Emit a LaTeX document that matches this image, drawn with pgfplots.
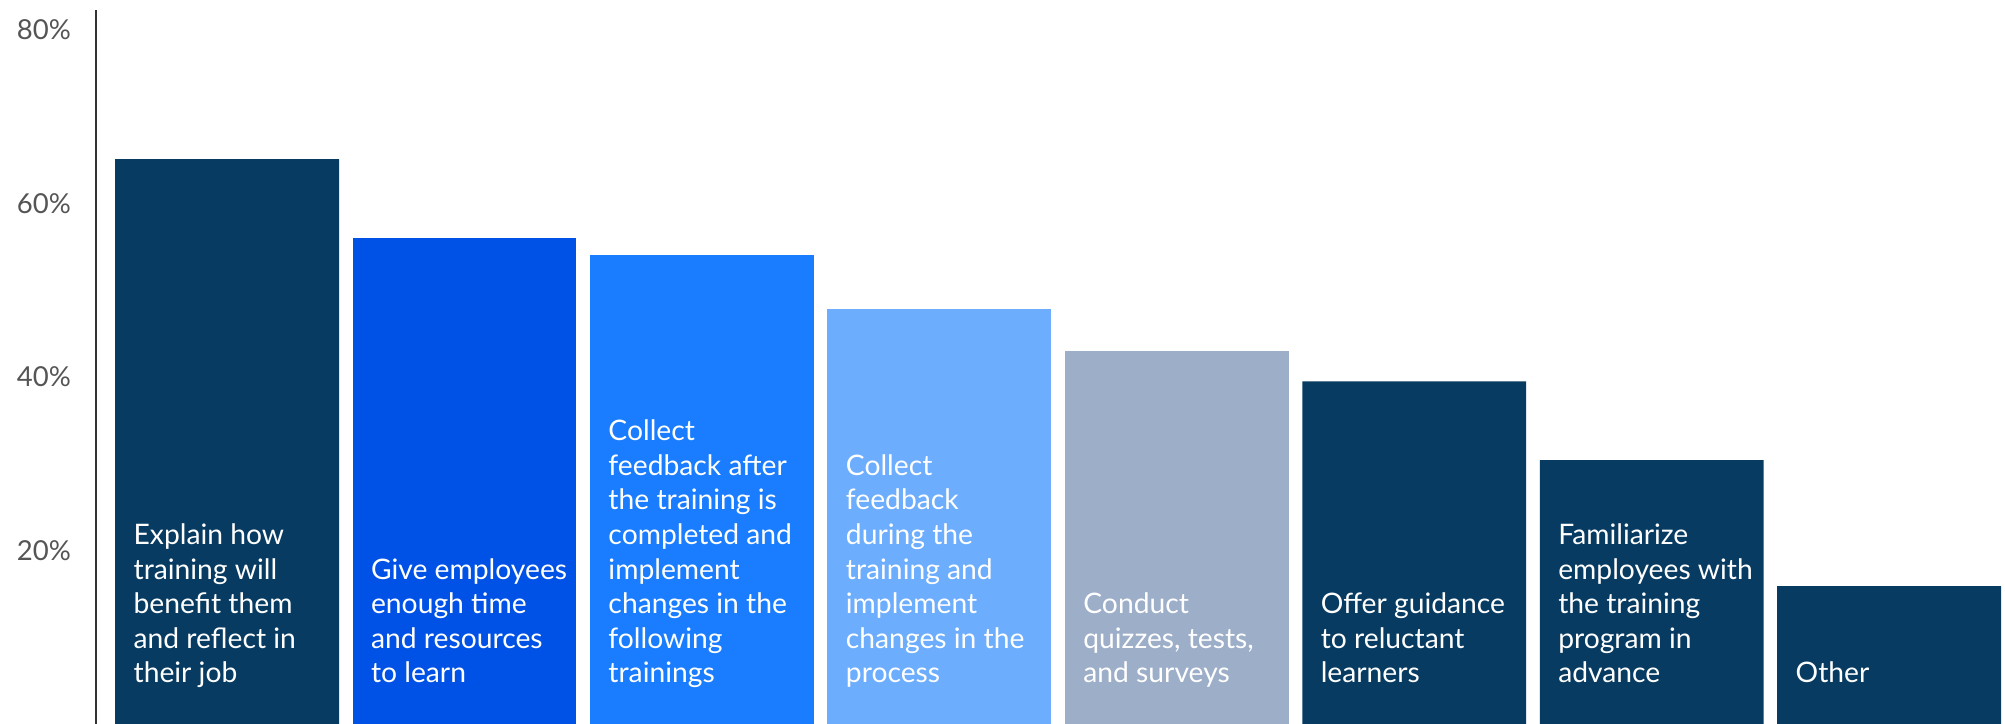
\documentclass[border=0pt]{standalone}
\usepackage{fontspec}
\setmainfont{Lato}
\usepackage{pgfplots}
\pgfplotsset{compat=1.18}
\definecolor{navy}{HTML}{083B61}
\definecolor{royal}{HTML}{0052E6}
\definecolor{azure}{HTML}{1A7DFF}
\definecolor{sky}{HTML}{6CADFD}
\definecolor{slate}{HTML}{9DAEC8}
\definecolor{tickgray}{HTML}{555555}
\definecolor{axisgray}{HTML}{333333}
% label inside a bar: last line's baseline sits a fixed distance above zero
\newcommand{\barlabel}[2]{%
  \node[anchor=base west, inner sep=0pt, text=white,
        font={\fontsize{11.3}{13.84}\selectfont}]
    at ([xshift=7.2pt,yshift=16.4pt]axis cs:#1,0)
    {\parbox[b]{95pt}{\raggedright #2}};}
\begin{document}
\begin{tikzpicture}
\begin{axis}[
    width=763.6pt, height=285.6pt, scale only axis,
    xmin=-0.552, xmax=7.488,
    ymin=0, ymax=82.3,
    axis y line*=left,
    axis x line=none,
    y axis line style={draw=axisgray, line width=0.8pt},
    ytick={20,40,60,80},
    major tick length=0pt,
    /pgf/number format/assume math mode=true,
    yticklabel={\pgfmathprintnumber{\tick}\%},
    yticklabel style={font={\fontsize{11}{12}\selectfont}, text=tickgray, xshift=-6.5pt},
    ybar, bar width=0.943,
    clip=false,
]
\addplot[fill=navy, draw=none, bar shift=0pt] coordinates {(0,65.1) (5,39.5) (6,30.4) (7,15.9)};
\addplot[fill=royal, draw=none, bar shift=0pt] coordinates {(1,56.0)};
\addplot[fill=azure, draw=none, bar shift=0pt] coordinates {(2,54.1)};
\addplot[fill=sky, draw=none, bar shift=0pt] coordinates {(3,47.8)};
\addplot[fill=slate, draw=none, bar shift=0pt] coordinates {(4,43.0)};

\barlabel{-0.4715}{Explain how\\training will\\benefit them\\and reflect in\\their job}
\barlabel{0.5285}{Give employees\\enough time\\and resources\\to learn}
\barlabel{1.5285}{Collect\\feedback after\\the training is\\completed and\\implement\\changes in the\\following\\trainings}
\barlabel{2.5285}{Collect\\feedback\\during the\\training and\\implement\\changes in the\\process}
\barlabel{3.5285}{Conduct\\quizzes, tests,\\and surveys}
\barlabel{4.5285}{Offer guidance\\to reluctant\\learners}
\barlabel{5.5285}{Familiarize\\employees with\\the training\\program in\\advance}
\barlabel{6.5285}{Other}
\end{axis}
\pgfresetboundingbox
\path[use as bounding box] ([xshift=-38.4pt]current axis.south west) rectangle ([yshift=4pt]current axis.north east);
\end{tikzpicture}
\end{document}
